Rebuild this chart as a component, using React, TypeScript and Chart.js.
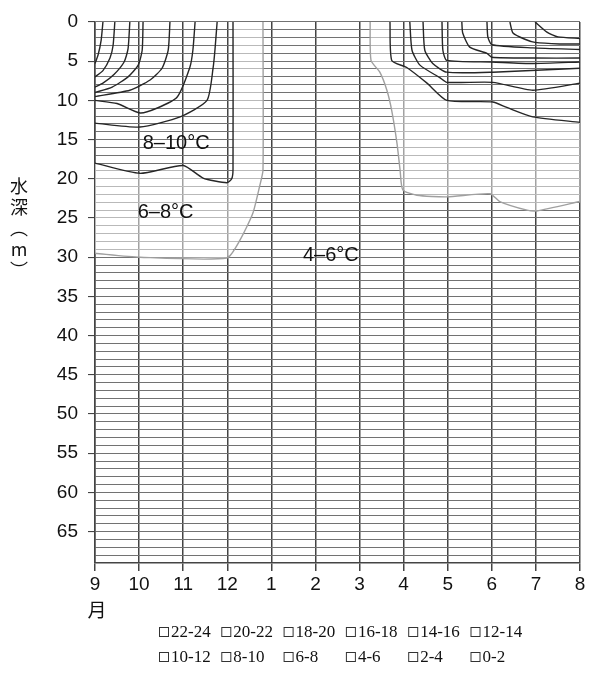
import React, { useEffect, useRef } from 'react';
import { Chart, registerables } from 'chart.js';

Chart.register(...registerables);

// Month axis (September through August) and depth range in metres
const monthLabels = ['9', '10', '11', '12', '1', '2', '3', '4', '5', '6', '7', '8'];
const depthMax = 69;
const depthLabelStep = 5;
const depthLabelLast = 65;

// Legend bands (°C)
const legendRowA = ['22-24', '20-22', '18-20', '16-18', '14-16', '12-14'];
const legendRowB = ['10-12', '8-10', '6-8', '4-6', '2-4', '0-2'];

// Isotherms as [month index, depth m] — autumn stratification (Sep–Dec)
const iso22Autumn = [[0.18, 0], [0.14, 2.3], [0.07, 4.2], [0, 5.3]];
const iso20Autumn = [[0.45, 0], [0.41, 3.0], [0.34, 4.6], [0.18, 6.2], [0, 7.0]];
const iso18Autumn = [[0.79, 0], [0.75, 3.4], [0.66, 5.1], [0.43, 6.7], [0.18, 7.8], [0, 8.3]];
const iso16Autumn = [[1.09, 0], [1.07, 3.6], [0.98, 5.5], [0.75, 7.0], [0.39, 8.3], [0, 9.0]];
const iso14Autumn = [[1.7, 0], [1.66, 3.6], [1.52, 5.9], [1.25, 7.4], [0.79, 8.7], [0, 9.5]];
const iso12Autumn = [[2.27, 0], [2.22, 3.6], [2.15, 5.8], [1.86, 9.6], [1.4, 11.0], [1.02, 11.6], [0.5, 10.4], [0, 10.0]];
const iso10Autumn = [[2.77, 0], [2.72, 3.6], [2.68, 5.8], [2.54, 10.0], [1.93, 12.1], [1.02, 13.4], [0, 12.9]];
const iso8Autumn = [[3.13, 0], [3.13, 18.8], [3.1, 20.0], [2.99, 20.5], [2.45, 19.9], [2.0, 18.3], [1.02, 19.3], [0, 18.0]];
const iso6Autumn = [[3.81, 0], [3.81, 18.9], [3.74, 20.8], [3.58, 24.4], [3.29, 27.8], [2.99, 30.1], [1.02, 30.0], [0, 29.5]];

// Isotherms — spring/summer warming (Mar–Aug)
const iso6Spring = [[6.24, 0], [6.26, 4.9], [6.46, 6.4], [6.62, 8.7], [6.73, 11.3], [6.85, 15.5], [6.92, 18.9], [6.98, 21.4], [7.3, 22.1], [7.98, 22.3], [8.96, 21.9], [9.18, 22.9], [9.8, 24.0], [10.02, 24.1], [11, 22.9]];
const iso8Spring = [[6.69, 0], [6.73, 4.9], [7.07, 5.8], [7.53, 7.8], [7.98, 10.0], [9.02, 10.2], [9.34, 10.9], [9.93, 12.1], [11, 12.8]];
const iso10Spring = [[7.14, 0], [7.19, 3.6], [7.37, 5.5], [7.82, 7.1], [7.98, 7.7], [9.02, 7.7], [9.93, 8.7], [11, 7.8]];
const iso12Spring = [[7.44, 0], [7.48, 3.6], [7.66, 5.3], [7.98, 6.4], [9.02, 6.4], [11, 5.9]];
const iso14Spring = [[7.87, 0], [7.89, 3.6], [7.98, 4.9], [9.0, 5.1], [9.93, 5.3], [11, 5.1]];
const iso16Spring = [[8.32, 0], [8.34, 1.4], [8.5, 3.2], [8.89, 4.0], [9.0, 4.5], [9.93, 4.6], [11, 4.6]];
const iso18Spring = [[8.89, 0], [8.91, 1.9], [9.0, 2.9], [9.93, 3.3], [11, 3.5]];
const iso20Spring = [[9.41, 0], [9.48, 1.4], [9.75, 2.2], [9.98, 2.6], [10.54, 2.8], [11, 2.8]];
const iso22Spring = [[9.98, 0], [10.25, 1.3], [10.5, 1.9], [11, 2.1]];

// Band annotations: text, month index, depth
const bandNotes: [string, number, number][] = [
  ['8–10°C', 1.84, 15.5],
  ['6–8°C', 1.6, 24.3],
  ['4–6°C', 5.35, 29.8],
];

const isotherms: { temp: number; pts: number[][] }[] = [
  { temp: 22, pts: iso22Autumn },
  { temp: 20, pts: iso20Autumn },
  { temp: 18, pts: iso18Autumn },
  { temp: 16, pts: iso16Autumn },
  { temp: 14, pts: iso14Autumn },
  { temp: 12, pts: iso12Autumn },
  { temp: 10, pts: iso10Autumn },
  { temp: 8, pts: iso8Autumn },
  { temp: 6, pts: iso6Autumn },
  { temp: 6, pts: iso6Spring },
  { temp: 8, pts: iso8Spring },
  { temp: 10, pts: iso10Spring },
  { temp: 12, pts: iso12Spring },
  { temp: 14, pts: iso14Spring },
  { temp: 16, pts: iso16Spring },
  { temp: 18, pts: iso18Spring },
  { temp: 20, pts: iso20Spring },
  { temp: 22, pts: iso22Spring },
];

// The 6–8 °C band, bounded by its two isotherms (autumn and spring sides)
const band68: number[][][] = [
  [...iso8Autumn, ...[...iso6Autumn].reverse()],
  [...iso6Spring, ...[...iso8Spring].reverse()],
];

const sansFont = '"Liberation Sans", Arial, sans-serif';
const cjkFont = '"Noto Sans CJK JP", "Noto Sans CJK SC", sans-serif';
const serifFont = '"Liberation Serif", "Times New Roman", serif';

const contourPlugin = {
  id: 'contourDecor',
  beforeDatasetsDraw(chart: any) {
    const { ctx, scales, chartArea } = chart;
    ctx.save();
    ctx.beginPath();
    ctx.rect(chartArea.left, chartArea.top, chartArea.right - chartArea.left, chartArea.bottom - chartArea.top);
    ctx.clip();
    ctx.fillStyle = 'rgba(255,255,255,0.5)';
    band68.forEach((poly) => {
      ctx.beginPath();
      poly.forEach(([m, d], i) => {
        const px = scales.x.getPixelForValue(m);
        const py = scales.y.getPixelForValue(d);
        if (i === 0) ctx.moveTo(px, py);
        else ctx.lineTo(px, py);
      });
      ctx.closePath();
      ctx.fill();
    });
    ctx.restore();
  },
  afterDatasetsDraw(chart: any) {
    const { ctx, scales } = chart;
    ctx.save();
    ctx.fillStyle = '#111';
    ctx.textAlign = 'center';
    ctx.textBaseline = 'middle';
    ctx.font = `20px ${sansFont}`;
    bandNotes.forEach(([text, m, d]) => {
      ctx.fillText(text, scales.x.getPixelForValue(m), scales.y.getPixelForValue(d));
    });
    ctx.restore();
  },
  afterDraw(chart: any) {
    const { ctx, chartArea } = chart;
    ctx.save();
    ctx.fillStyle = '#111';
    ctx.textAlign = 'center';
    ctx.textBaseline = 'middle';

    // vertical axis title, stacked characters
    ctx.font = `18px ${cjkFont}`;
    const titleChars = ['水', '深', '︵', 'm', '︶'];
    const titleTop = chartArea.top + 164;
    titleChars.forEach((ch, i) => {
      ctx.fillText(ch, 11, titleTop + i * 21);
    });

    // horizontal axis title
    ctx.font = `19px ${cjkFont}`;
    ctx.fillText('月', chartArea.left + 2, chartArea.bottom + 47);

    // legend: two rows of hollow squares with band ranges
    ctx.font = `17px ${serifFont}`;
    ctx.textAlign = 'left';
    const rows = [legendRowA, legendRowB];
    rows.forEach((row, r) => {
      const y = chartArea.bottom + 69 + r * 25;
      row.forEach((label, i) => {
        const x = chartArea.left + 64 + i * 62.3;
        ctx.strokeStyle = '#333';
        ctx.lineWidth = 1;
        ctx.strokeRect(x + 0.5, y - 4.5, 9, 9);
        ctx.fillText(label, x + 12, y + 1);
      });
    });
    ctx.restore();
  },
};

export default function App() {
  const canvasRef = useRef<HTMLCanvasElement | null>(null);

  useEffect(() => {
    if (!canvasRef.current) return;
    const datasets = isotherms.map((iso) => ({
      label: `${iso.temp}°C`,
      data: iso.pts.map(([m, d]) => ({ x: m, y: d })),
      borderColor: iso.temp <= 6 ? '#a0a0a0' : '#262626',
      borderWidth: 1.4,
      pointRadius: 0,
      tension: 0.2,
      fill: false,
    }));

    const chart = new Chart(canvasRef.current, {
      type: 'line',
      data: { datasets },
      options: {
        animation: false,
        responsive: true,
        maintainAspectRatio: false,
        layout: { padding: { top: 14, right: 6, left: 0, bottom: 0 } },
        plugins: {
          legend: { display: false },
          tooltip: { enabled: false },
        },
        scales: {
          x: {
            type: 'linear',
            min: 0,
            max: monthLabels.length - 1,
            ticks: {
              stepSize: 1,
              autoSkip: false,
              maxRotation: 0,
              padding: 2,
              color: '#111',
              font: { size: 19, family: sansFont },
              callback: (v: any) => monthLabels[Math.round(Number(v))] ?? '',
            },
            grid: { color: '#444', lineWidth: 1.5, tickLength: 8, tickColor: '#444' },
            border: { color: '#444', width: 1.5 },
            afterFit: (s: any) => {
              s.height = 104;
              s.paddingLeft = 0;
              s.paddingRight = 0;
            },
          },
          y: {
            type: 'linear',
            reverse: true,
            min: 0,
            max: depthMax,
            ticks: {
              stepSize: 1,
              autoSkip: false,
              padding: 10,
              color: '#111',
              font: { size: 19, family: sansFont },
              callback: (v: any) => {
                const n = Number(v);
                return n % depthLabelStep === 0 && n <= depthLabelLast ? String(n) : '';
              },
            },
            grid: {
              color: '#727272',
              lineWidth: 1.1,
              tickLength: 7,
              tickColor: (c: any) =>
                c.tick && c.tick.value % depthLabelStep === 0 && c.tick.value <= depthLabelLast ? '#444' : 'rgba(0,0,0,0)',
            },
            border: { color: '#444', width: 1.5 },
            afterFit: (s: any) => {
              s.width = 87;
              s.paddingTop = 0;
              s.paddingBottom = 0;
            },
          },
        },
      },
      plugins: [contourPlugin],
    });
    return () => chart.destroy();
  }, []);

  return (
    <div style={{ position: 'relative', width: 578, height: 659 }}>
      <canvas ref={canvasRef} />
    </div>
  );
}
